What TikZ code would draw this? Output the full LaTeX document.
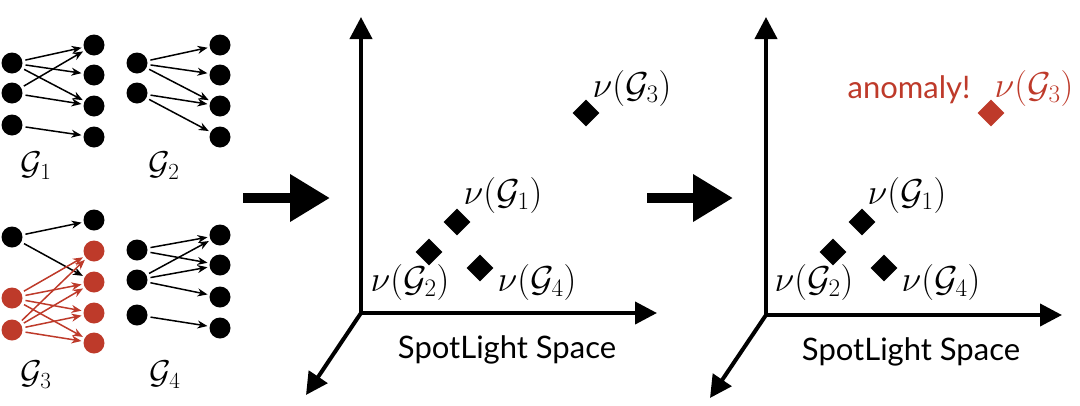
\documentclass[tikz,border=0pt]{standalone}
\usepackage{fix-cm}
\usepackage{fontspec}
\newfontfamily\spacefont{Lato}
\usetikzlibrary{arrows.meta,shapes.geometric}
\definecolor{spotred}{RGB}{190,58,42}
\tikzset{
  vtx/.style={circle,fill=black,inner sep=0pt,minimum size=21pt},
  rvtx/.style={vtx,fill=spotred},
  edge/.style={-{Stealth[length=10pt,width=8pt]},line width=1.5pt,shorten >=2pt,shorten <=3pt},
  redge/.style={edge,spotred},
  axis/.style={-{Triangle[length=22pt,width=22pt]},line width=4pt},
  bigarrow/.style={-{Triangle[length=40pt,width=45pt]},line width=10pt},
  embpt/.style={diamond,fill=black,inner sep=0pt,minimum size=27pt},
  mathlab/.style={inner sep=0pt,font=\fontsize{36}{40}\selectfont},
  graphlab/.style={inner sep=0pt,font=\fontsize{33}{38}\selectfont},
  textlab/.style={inner sep=0pt,font=\spacefont\fontsize{31}{36}\selectfont},
}
\begin{document}
\begin{tikzpicture}[x=1pt,y=-1pt]
\useasboundingbox (0,0) rectangle (1080,405);

% G1
\foreach \i/\y in {1/63,2/93,3/125}
  \node[vtx] (ga\i) at (12,\y) {};
\foreach \i/\y in {1/45,2/75,3/106,4/137}
  \node[vtx] (gb\i) at (94,\y) {};
\foreach \s/\t in {1/1,1/2,1/3,2/1,2/3,3/4}
  \draw[edge] (ga\s) -- (gb\t);
\node[graphlab] (g1) at (36,166) {$\mathcal{G}_1$};

% G2
\foreach \i/\y in {1/63,2/93}
  \node[vtx] (ha\i) at (137,\y) {};
\foreach \i/\y in {1/45,2/75,3/106,4/137}
  \node[vtx] (hb\i) at (220,\y) {};
\foreach \s/\t in {1/1,1/2,1/3,2/3,2/4}
  \draw[edge] (ha\s) -- (hb\t);
\node[graphlab] (g2) at (164,166) {$\mathcal{G}_2$};

% G3
\node[vtx] (ka1) at (12,237) {};
\node[rvtx] (ka2) at (12,298) {};
\node[rvtx] (ka3) at (12,330) {};
\node[vtx] (kb1) at (94,220) {};
\foreach \i/\y in {2/251,3/282,4/313,5/343}
  \node[rvtx] (kb\i) at (94,\y) {};
\draw[edge] (ka1) -- (kb1);
\draw[edge] (ka1) -- (kb3);
\foreach \s in {2,3}
  \foreach \t in {2,...,5}
    \draw[redge] (ka\s) -- (kb\t);
\node[graphlab] (g3) at (36,375) {$\mathcal{G}_3$};

% G4
\foreach \i/\y in {1/250,2/280,3/315}
  \node[vtx] (ma\i) at (137,\y) {};
\foreach \i/\y in {1/235,2/265,3/297,4/328}
  \node[vtx] (mb\i) at (220,\y) {};
\foreach \s/\t in {1/1,1/2,2/1,2/2,2/3,3/4}
  \draw[edge] (ma\s) -- (mb\t);
\node[graphlab] (g4) at (165,375) {$\mathcal{G}_4$};

% big arrows
\coordinate (s1) at (243,198);
\coordinate (e1) at (330,198);
\coordinate (s2) at (647,198);
\coordinate (e2) at (733,198);
\draw[bigarrow] (s1) -- (e1);
\draw[bigarrow] (s2) -- (e2);

% first space
\coordinate (o1) at (361,313);
\coordinate (y1) at (361,17);
\coordinate (x1) at (657,313);
\coordinate (z1) at (306,395);
\draw[axis] (o1) -- (y1);
\draw[axis] (o1) -- (x1);
\draw[axis] (o1) -- (z1);
\node[embpt] (p13) at (586,113) {};
\node[embpt] (p11) at (457,222) {};
\node[embpt] (p12) at (429,252) {};
\node[embpt] (p14) at (480,268) {};
\node[mathlab] (l13) at (632,88) {$\nu(\mathcal{G}_3)$};
\node[mathlab] (l11) at (503,195) {$\nu(\mathcal{G}_1)$};
\node[mathlab] (l12) at (410,282) {$\nu(\mathcal{G}_2)$};
\node[mathlab] (l14) at (537,282) {$\nu(\mathcal{G}_4)$};
\node[textlab] (sp1) at (507,350) {SpotLight Space};

% second space
\coordinate (o2) at (766,315);
\coordinate (y2) at (766,17);
\coordinate (x2) at (1062,315);
\coordinate (z2) at (710,398);
\draw[axis] (o2) -- (y2);
\draw[axis] (o2) -- (x2);
\draw[axis] (o2) -- (z2);
\node[embpt,fill=spotred] (p23) at (991,113) {};
\node[embpt] (p21) at (862,222) {};
\node[embpt] (p22) at (833,252) {};
\node[embpt] (p24) at (884,268) {};
\node[mathlab,spotred] (l23) at (1034,88) {$\nu(\mathcal{G}_3)$};
\node[textlab,spotred] (an) at (909,90) {anomaly!};
\node[mathlab] (l21) at (907,195) {$\nu(\mathcal{G}_1)$};
\node[mathlab] (l22) at (814,282) {$\nu(\mathcal{G}_2)$};
\node[mathlab] (l24) at (941,282) {$\nu(\mathcal{G}_4)$};
\node[textlab] (sp2) at (911,352) {SpotLight Space};
\end{tikzpicture}
\end{document}
